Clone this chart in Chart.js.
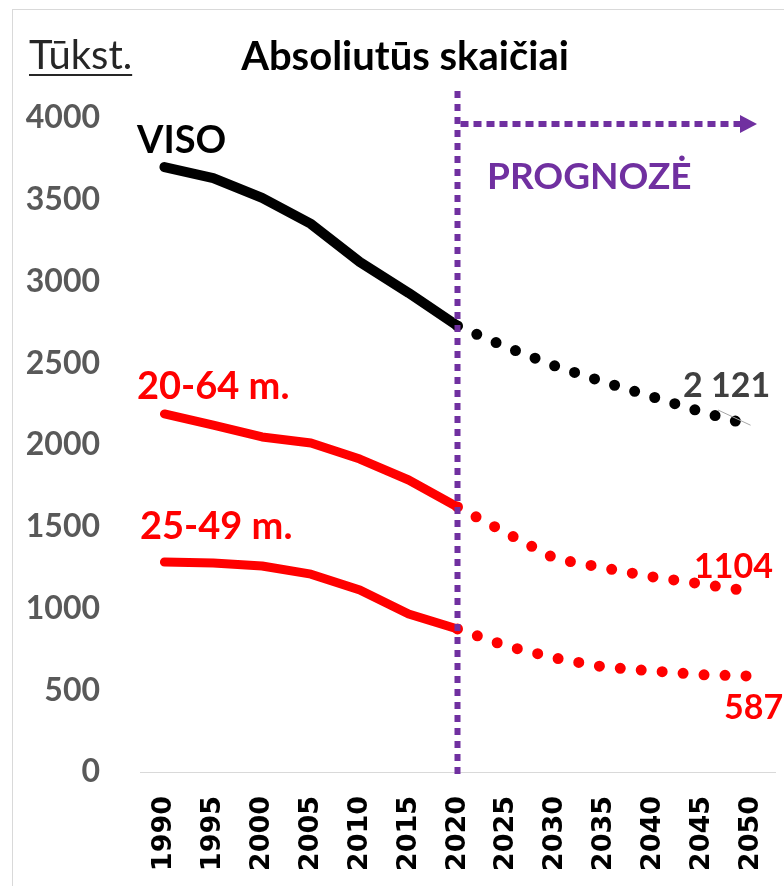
<!DOCTYPE html>
<html>
<head>
<meta charset="utf-8">
<script src="https://cdn.jsdelivr.net/npm/chart.js@4.4.0/dist/chart.umd.min.js"></script>
<style>
body { margin: 0; background: #fff; }
#frame { position: absolute; left: 12px; top: 9px; width: 800px; height: 900px; border: 1px solid #d9d9d9; }
#wrap { position: absolute; left: 0; top: 0; width: 784px; height: 886px; }
</style>
</head>
<body>
<div id="frame"></div>
<div id="wrap"><canvas id="chart" width="784" height="886"></canvas></div>
<script>
// categories
const years = ['1990', '1995', '2000', '2005', '2010', '2015', '2020',
               '2025', '2030', '2035', '2040', '2045', '2050'];

// thousands, 1990-2020 actual
const visoHist  = [3700, 3633, 3511, 3352, 3119, 2930, 2728];
const age2064Hist = [2190, 2122, 2049, 2012, 1914, 1786, 1621];
const age2549Hist = [1284, 1278, 1260, 1210, 1113, 966, 875];

// 2020-2050 forecast
const visoProg  = [2728, 2599, 2483, 2385, 2294, 2202, 2121];
const age2064Prog = [1621, 1462, 1305, 1248, 1193, 1150, 1104];
const age2549Prog = [875, 771, 697, 642, 618, 595, 587];

const yTicks = [0, 500, 1000, 1500, 2000, 2500, 3000, 3500, 4000];

const PURPLE = '#7030a0';
const RED = '#ff0000';

// pad history with nulls after 2020, forecast with nulls before
function hist(vals) { return vals.concat(Array(years.length - vals.length).fill(null)); }
function prog(vals) { return Array(years.length - vals.length).fill(null).concat(vals); }

function solid(data, color, width) {
    return {
        data: data,
        borderColor: color,
        borderWidth: width,
        borderCapStyle: 'round',
        borderJoinStyle: 'round',
        pointRadius: 0,
        tension: 0,
        spanGaps: false
    };
}

function dotted(data, color, width) {
    return {
        data: data,
        borderColor: color,
        borderWidth: width,
        borderCapStyle: 'round',
        borderDash: [0, 21],
        pointRadius: 0,
        tension: 0,
        spanGaps: false
    };
}

const notes = {
    id: 'notes',
    afterDatasetsDraw(chart) {
        const ctx = chart.ctx;
        const x = chart.scales.x;
        const y = chart.scales.y;
        const x2020 = x.getPixelForValue(6);
        ctx.save();

        // forecast divider
        ctx.strokeStyle = PURPLE;
        ctx.lineWidth = 6;
        ctx.lineCap = 'butt';
        ctx.setLineDash([7, 6]);
        ctx.beginPath();
        ctx.moveTo(x2020, 91);
        ctx.lineTo(x2020, y.getPixelForValue(0) + 8);
        ctx.stroke();

        // arrow
        const ay = 124;
        ctx.setLineDash([8, 5]);
        ctx.beginPath();
        ctx.moveTo(x2020 + 3, ay);
        ctx.lineTo(741, ay);
        ctx.stroke();
        ctx.setLineDash([]);
        ctx.fillStyle = PURPLE;
        ctx.beginPath();
        ctx.moveTo(740, ay - 9);
        ctx.lineTo(757, ay);
        ctx.lineTo(740, ay + 9);
        ctx.closePath();
        ctx.fill();

        ctx.font = 'bold 37px Lato';
        ctx.textAlign = 'left';
        ctx.textBaseline = 'alphabetic';
        ctx.fillText('PROGNOZĖ', 487, 189);

        // title
        ctx.fillStyle = '#000';
        ctx.font = 'bold 40px Lato';
        ctx.textAlign = 'center';
        ctx.fillText('Absoliutūs skaičiai', 405, 70);

        ctx.fillStyle = '#262626';
        ctx.font = '40px Lato';
        ctx.textAlign = 'left';
        ctx.fillText('Tūkst.', 29, 69);
        const w = ctx.measureText('Tūkst.').width;
        ctx.fillRect(29, 74, w, 2);

        // series names
        ctx.font = 'bold 38px Lato';
        ctx.fillStyle = '#000';
        ctx.fillText('VISO', 137, 153);
        ctx.fillStyle = RED;
        ctx.fillText('20-64 m.', 137, 399);
        ctx.fillText('25-49 m.', 140, 539);

        // end values
        const x2050 = x.getPixelForValue(12);
        ctx.strokeStyle = '#a6a6a6';
        ctx.lineWidth = 1;
        ctx.beginPath();
        ctx.moveTo(718, 410);
        ctx.lineTo(x2050, y.getPixelForValue(visoProg[6]));
        ctx.stroke();

        ctx.font = 'bold 34px Lato';
        ctx.fillStyle = '#404040';
        ctx.fillText('2 121', 683, 397);
        ctx.fillStyle = RED;
        ctx.fillText('1104', 694, 578);
        ctx.fillText('587', 724, 719);

        ctx.restore();
    }
};

const config = {
    type: 'line',
    data: {
        labels: years,
        datasets: [
            solid(hist(visoHist), '#000000', 10),
            dotted(prog(visoProg), '#000000', 11),
            solid(hist(age2064Hist), RED, 9),
            dotted(prog(age2064Prog), RED, 11),
            solid(hist(age2549Hist), RED, 9),
            dotted(prog(age2549Prog), RED, 11)
        ]
    },
    options: {
        responsive: false,
        animation: false,
        layout: { padding: { top: 118, right: 9, left: 0, bottom: 0 } },
        plugins: {
            legend: { display: false },
            title: { display: false },
            tooltip: { enabled: false }
        },
        scales: {
            x: {
                offset: true,
                grid: { color: 'transparent', drawTicks: false },
                border: { display: true, color: '#d9d9d9', width: 1 },
                ticks: {
                    minRotation: 90,
                    maxRotation: 90,
                    padding: 24,
                    color: '#000',
                    font: { family: 'DejaVu Sans', weight: 'bold', size: 27 }
                },
                afterFit: (scale) => {
                    scale.height = 114;
                    scale.paddingLeft = 0;
                    scale.paddingRight = 0;
                }
            },
            y: {
                min: 0,
                max: 4000,
                afterBuildTicks: (scale) => { scale.ticks = yTicks.map(v => ({ value: v })); },
                grid: { display: false },
                border: { display: false },
                ticks: {
                    padding: 32,
                    color: '#595959',
                    font: { family: 'Lato', weight: 'bold', size: 32 },
                    callback: (v) => String(v)
                },
                afterFit: (scale) => { scale.width = 140; }
            }
        }
    },
    plugins: [notes]
};

new Chart(document.getElementById('chart').getContext('2d'), config);
</script>
</body>
</html>
